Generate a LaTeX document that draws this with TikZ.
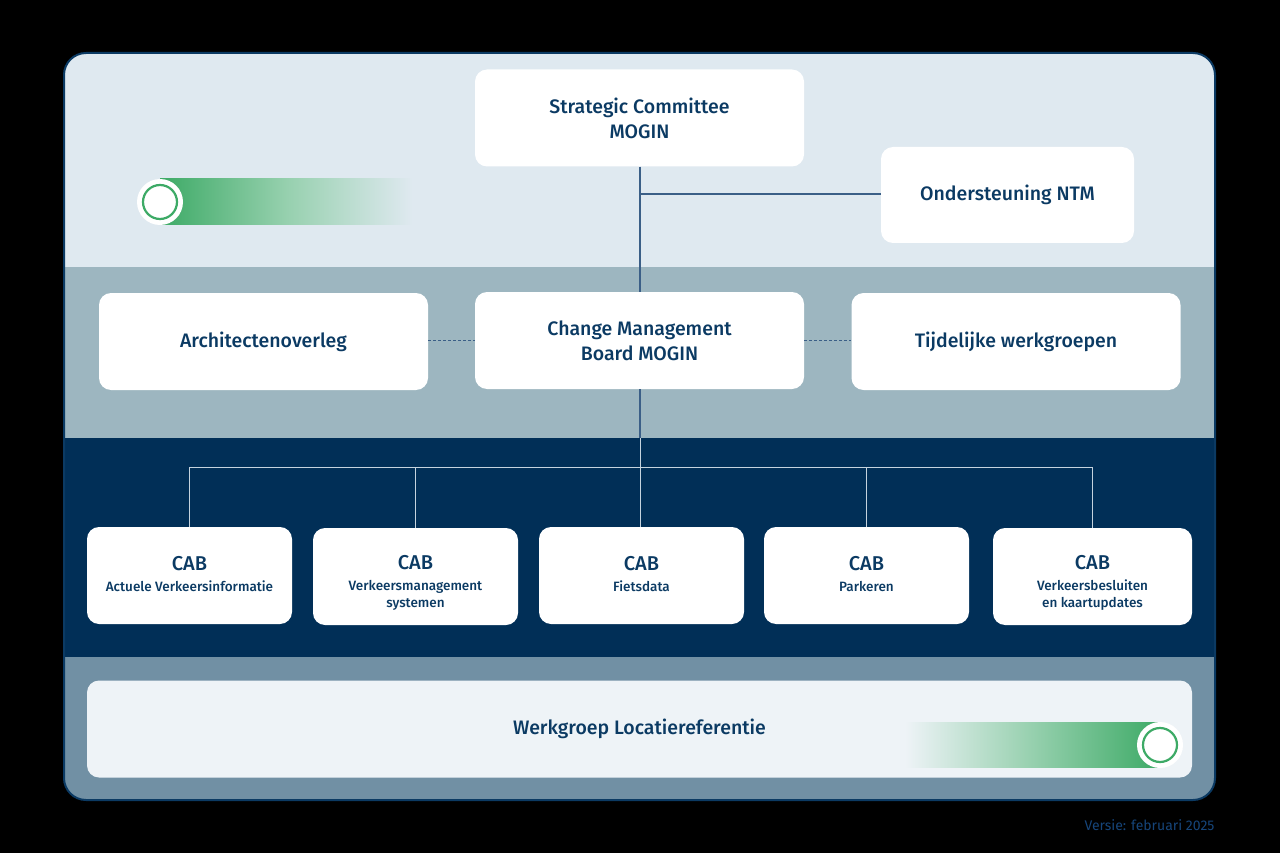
\documentclass[tikz,border=0pt]{standalone}
\usepackage{fontspec}
\setmainfont{Fira Sans}[BoldFont={Fira Sans Medium}]
\usetikzlibrary{positioning}
\definecolor{navy}{HTML}{0B3A63}
\definecolor{vernavy}{HTML}{16457A}
\definecolor{bandA}{HTML}{DFE9F0}
\definecolor{bandB}{HTML}{9DB6C0}
\definecolor{bandC}{HTML}{012F57}
\definecolor{bandD}{HTML}{7190A4}
\definecolor{lightbox}{HTML}{EEF3F7}
\definecolor{grn}{HTML}{3DAA66}
\definecolor{grnmid}{HTML}{96D0AE}
\definecolor{lineA}{HTML}{3B5F87}
\definecolor{lineC}{HTML}{C5D3DE}
\tikzset{
  card/.style={fill=white, rounded corners=12pt, text=navy, align=center, inner sep=0pt,
    font=\fontsize{19.5}{25}\selectfont\bfseries},
  bigcard/.style={card, minimum width=329pt, minimum height=97pt},
  cabcard/.style={card, minimum width=205pt, minimum height=97pt, font=\fontsize{13.5}{17}\selectfont\bfseries},
  conA/.style={draw=lineA, line width=1.2pt},
  conC/.style={draw=lineC, line width=1pt},
  dotcon/.style={draw=lineA, line width=1.1pt, dash pattern=on 3pt off 2pt},
}
\newcommand{\cabhead}{\fontsize{20}{24}\selectfont\rule{0pt}{27pt}CAB}
\newcommand{\cabsub}{\fontsize{13.5}{17}\selectfont}
\begin{document}
\begin{tikzpicture}[x=1pt,y=-1pt]
\fill[black] (0,0) rectangle (1280,853);
\useasboundingbox (0,0) rectangle (1280,853);
% frame bands
\begin{scope}
\clip[rounded corners=22pt] (64,53) rectangle (1215,800);
\fill[bandA] (64,53) rectangle (1215,267);
\fill[bandB] (64,267) rectangle (1215,438);
\fill[bandC] (64,438) rectangle (1215,657);
\fill[bandD] (64,657) rectangle (1215,800);
\end{scope}
\draw[navy, line width=2pt, rounded corners=22pt] (64,53) rectangle (1215,800);

% green pill top
\shade[left color=grn, right color=bandA, middle color=grnmid] (160,179) rectangle (412,225);
\fill[white] (160,202) circle (23);
\draw[grn, line width=2.2pt, fill=white] (160,202) circle (17);

% bottom box
\node[card, fill=lightbox, minimum width=1105pt, minimum height=97pt] (wg) at (639.5,729) {Werkgroep Locatiereferentie};
\shade[right color=grn, left color=lightbox, middle color=grnmid] (905,722) rectangle (1160,767);
\fill[white] (1160,745) circle (23);
\draw[grn, line width=2.2pt, fill=white] (1160,745) circle (17);

% nodes
\node[bigcard] (sc) at (639.5,118) {Strategic Committee\\MOGIN};
\node[card, minimum width=253pt, minimum height=96pt] (nt) at (1007.5,195) {Ondersteuning NTM};
\node[bigcard] (ar) at (263.5,341.5) {Architectenoverleg};
\node[bigcard] (cm) at (639.5,340.5) {Change Management\\Board MOGIN};
\node[bigcard] (tw) at (1016,341.5) {Tijdelijke werkgroepen};

\node[cabcard] (c1) at (189.5,575.5) {\cabhead\\[4pt]\cabsub Actuele Verkeersinformatie\\\mbox{}};
\node[cabcard] (c2) at (415.5,576.5) {\cabhead\\[4pt]\cabsub Verkeersmanagement\\systemen};
\node[cabcard] (c3) at (641.5,575.5) {\cabhead\\[4pt]\cabsub Fietsdata\\\mbox{}};
\node[cabcard] (c4) at (866.5,575.5) {\cabhead\\[4pt]\cabsub Parkeren\\\mbox{}};
\node[cabcard, minimum width=199pt] (c5) at (1092.5,576.5) {\cabhead\\[4pt]\cabsub Verkeersbesluiten\\en kaartupdates};

% connectors
\coordinate (j1) at (640,194);
\draw[conA] (sc.south -| j1) -- (cm.north -| j1);
\draw[conA] (j1) -- (nt.west |- j1);
\draw[dotcon] (ar.east |- cm.west) -- (cm.west);
\draw[dotcon] (cm.east) -- (tw.west |- cm.east);
\coordinate (bus) at (640,467);
\coordinate (bandtop) at (640,438);
\draw[draw=lineA, line width=1.2pt] (cm.south -| bus) -- (bandtop);
\draw[conC] (bandtop) -- (c3.north -| bus);
\draw[conC] (c1.north |- bus) -- (c5.north |- bus);
\foreach \c in {c1,c2,c4,c5} \draw[conC] (\c.north |- bus) -- (\c.north);

% version
\node[anchor=east, text=vernavy, font=\fontsize{14}{16}\selectfont] (ver) at (1218,825) {Versie: februari 2025};
\end{tikzpicture}
\end{document}
